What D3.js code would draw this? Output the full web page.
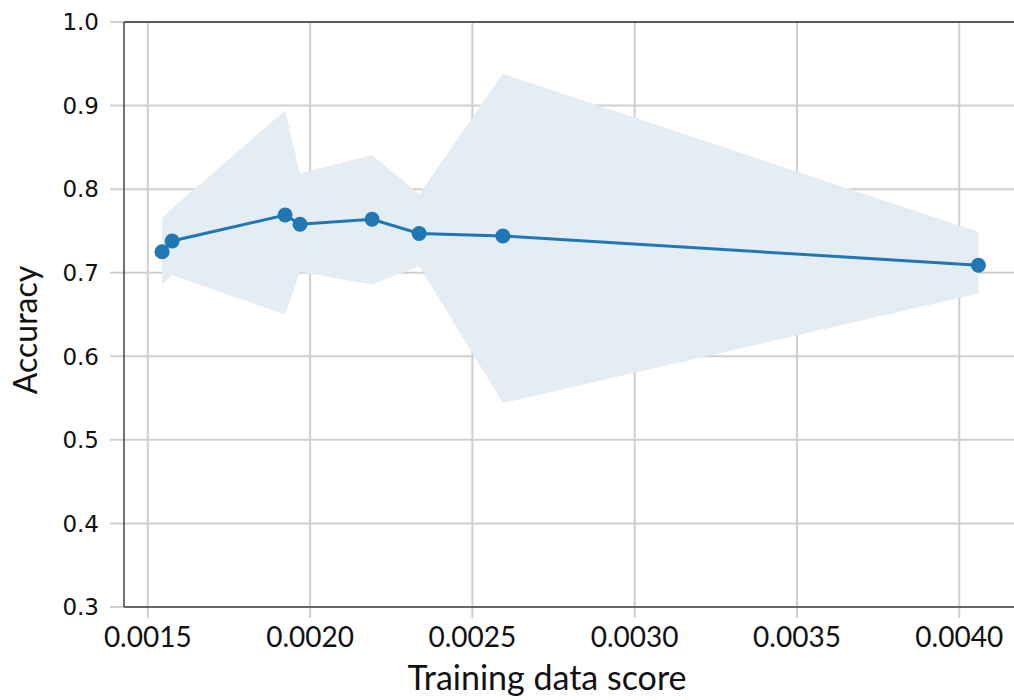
<!DOCTYPE html>
<html>
<head>
<meta charset="utf-8">
<script src="https://cdn.jsdelivr.net/npm/d3@7"></script>
<style>
  html, body { margin: 0; padding: 0; background: #fff; }
  svg { display: block; }
</style>
</head>
<body>
<svg id="chart" width="1014" height="700"></svg>
<script>
// ---- data ----
const scores   = [0.001544, 0.001575, 0.001923, 0.001969, 0.002191, 0.002336, 0.002594, 0.004059];
const accuracy = [0.725, 0.738, 0.769, 0.758, 0.764, 0.747, 0.744, 0.709];
const upper    = [0.765, 0.777, 0.894, 0.819, 0.841, 0.794, 0.938, 0.749];
const lower    = [0.686, 0.697, 0.650, 0.701, 0.686, 0.708, 0.544, 0.675];
const xTicks   = [0.0015, 0.0020, 0.0025, 0.0030, 0.0035, 0.0040];
const yTicks   = [0.3, 0.4, 0.5, 0.6, 0.7, 0.8, 0.9, 1.0];
const xTitle = "Training data score";
const yTitle = "Accuracy";

const rows = scores.map((s, i) => ({x: s, y: accuracy[i], hi: upper[i], lo: lower[i]}));

// ---- layout ----
const W = 1014, H = 700;
const m = {left: 124, top: 22, right: 0, bottom: 93};
const svg = d3.select("#chart");

const x = d3.scaleLinear().domain([0.0014267, 0.0041686]).range([m.left, W - m.right]);
const y = d3.scaleLinear().domain([0.3, 1.0]).range([H - m.bottom, m.top]);

const gridColor = "#cfcfcf";

// gridlines (extend past axes as ticks)
svg.append("g").selectAll("line").data(xTicks).join("line")
  .attr("x1", d => x(d)).attr("x2", d => x(d))
  .attr("y1", m.top).attr("y2", H - m.bottom + 11)
  .attr("stroke", gridColor).attr("stroke-width", 2);

svg.append("g").selectAll("line").data(yTicks).join("line")
  .attr("x1", m.left - 14).attr("x2", W)
  .attr("y1", d => y(d)).attr("y2", d => y(d))
  .attr("stroke", gridColor).attr("stroke-width", 2);

// confidence band
svg.append("path").datum(rows)
  .attr("fill", "#e4edf3")
  .attr("d", d3.area().x(d => x(d.x)).y0(d => y(d.lo)).y1(d => y(d.hi)));

// spines
svg.append("line").attr("x1", m.left).attr("x2", m.left).attr("y1", m.top).attr("y2", H - m.bottom)
  .attr("stroke", "#444").attr("stroke-width", 1.5);
svg.append("line").attr("x1", m.left).attr("x2", W).attr("y1", H - m.bottom).attr("y2", H - m.bottom)
  .attr("stroke", "#444").attr("stroke-width", 1.5);
svg.append("line").attr("x1", m.left).attr("x2", W).attr("y1", m.top).attr("y2", m.top)
  .attr("stroke", "#333").attr("stroke-width", 1.5);

// line + markers
svg.append("path").datum(rows)
  .attr("fill", "none").attr("stroke", "#1f77b4").attr("stroke-width", 3)
  .attr("d", d3.line().x(d => x(d.x)).y(d => y(d.y)));

svg.append("g").selectAll("circle").data(rows).join("circle")
  .attr("cx", d => x(d.x)).attr("cy", d => y(d.y)).attr("r", 7.5)
  .attr("fill", "#1f77b4");

// tick labels
svg.append("g").selectAll("text").data(yTicks).join("text")
  .attr("x", 99).attr("y", d => y(d)).attr("dy", "0.36em")
  .attr("text-anchor", "end")
  .attr("font-family", "DejaVu Sans").attr("font-size", 23).attr("fill", "#111")
  .text(d => d3.format(".1f")(d));

svg.append("g").selectAll("text").data(xTicks).join("text")
  .attr("x", d => x(d)).attr("y", 647)
  .attr("text-anchor", "middle")
  .attr("font-family", "Lato").attr("font-size", 28).attr("fill", "#111")
  .text(d => d3.format(".4f")(d));

// axis titles
svg.append("text").attr("x", 547).attr("y", 690).attr("text-anchor", "middle")
  .attr("font-family", "Lato").attr("font-size", 34).attr("fill", "#111").text(xTitle);

svg.append("text").attr("transform", "translate(37,330) rotate(-90)").attr("text-anchor", "middle")
  .attr("font-family", "Lato").attr("font-size", 32).attr("fill", "#111").text(yTitle);
</script>
</body>
</html>
